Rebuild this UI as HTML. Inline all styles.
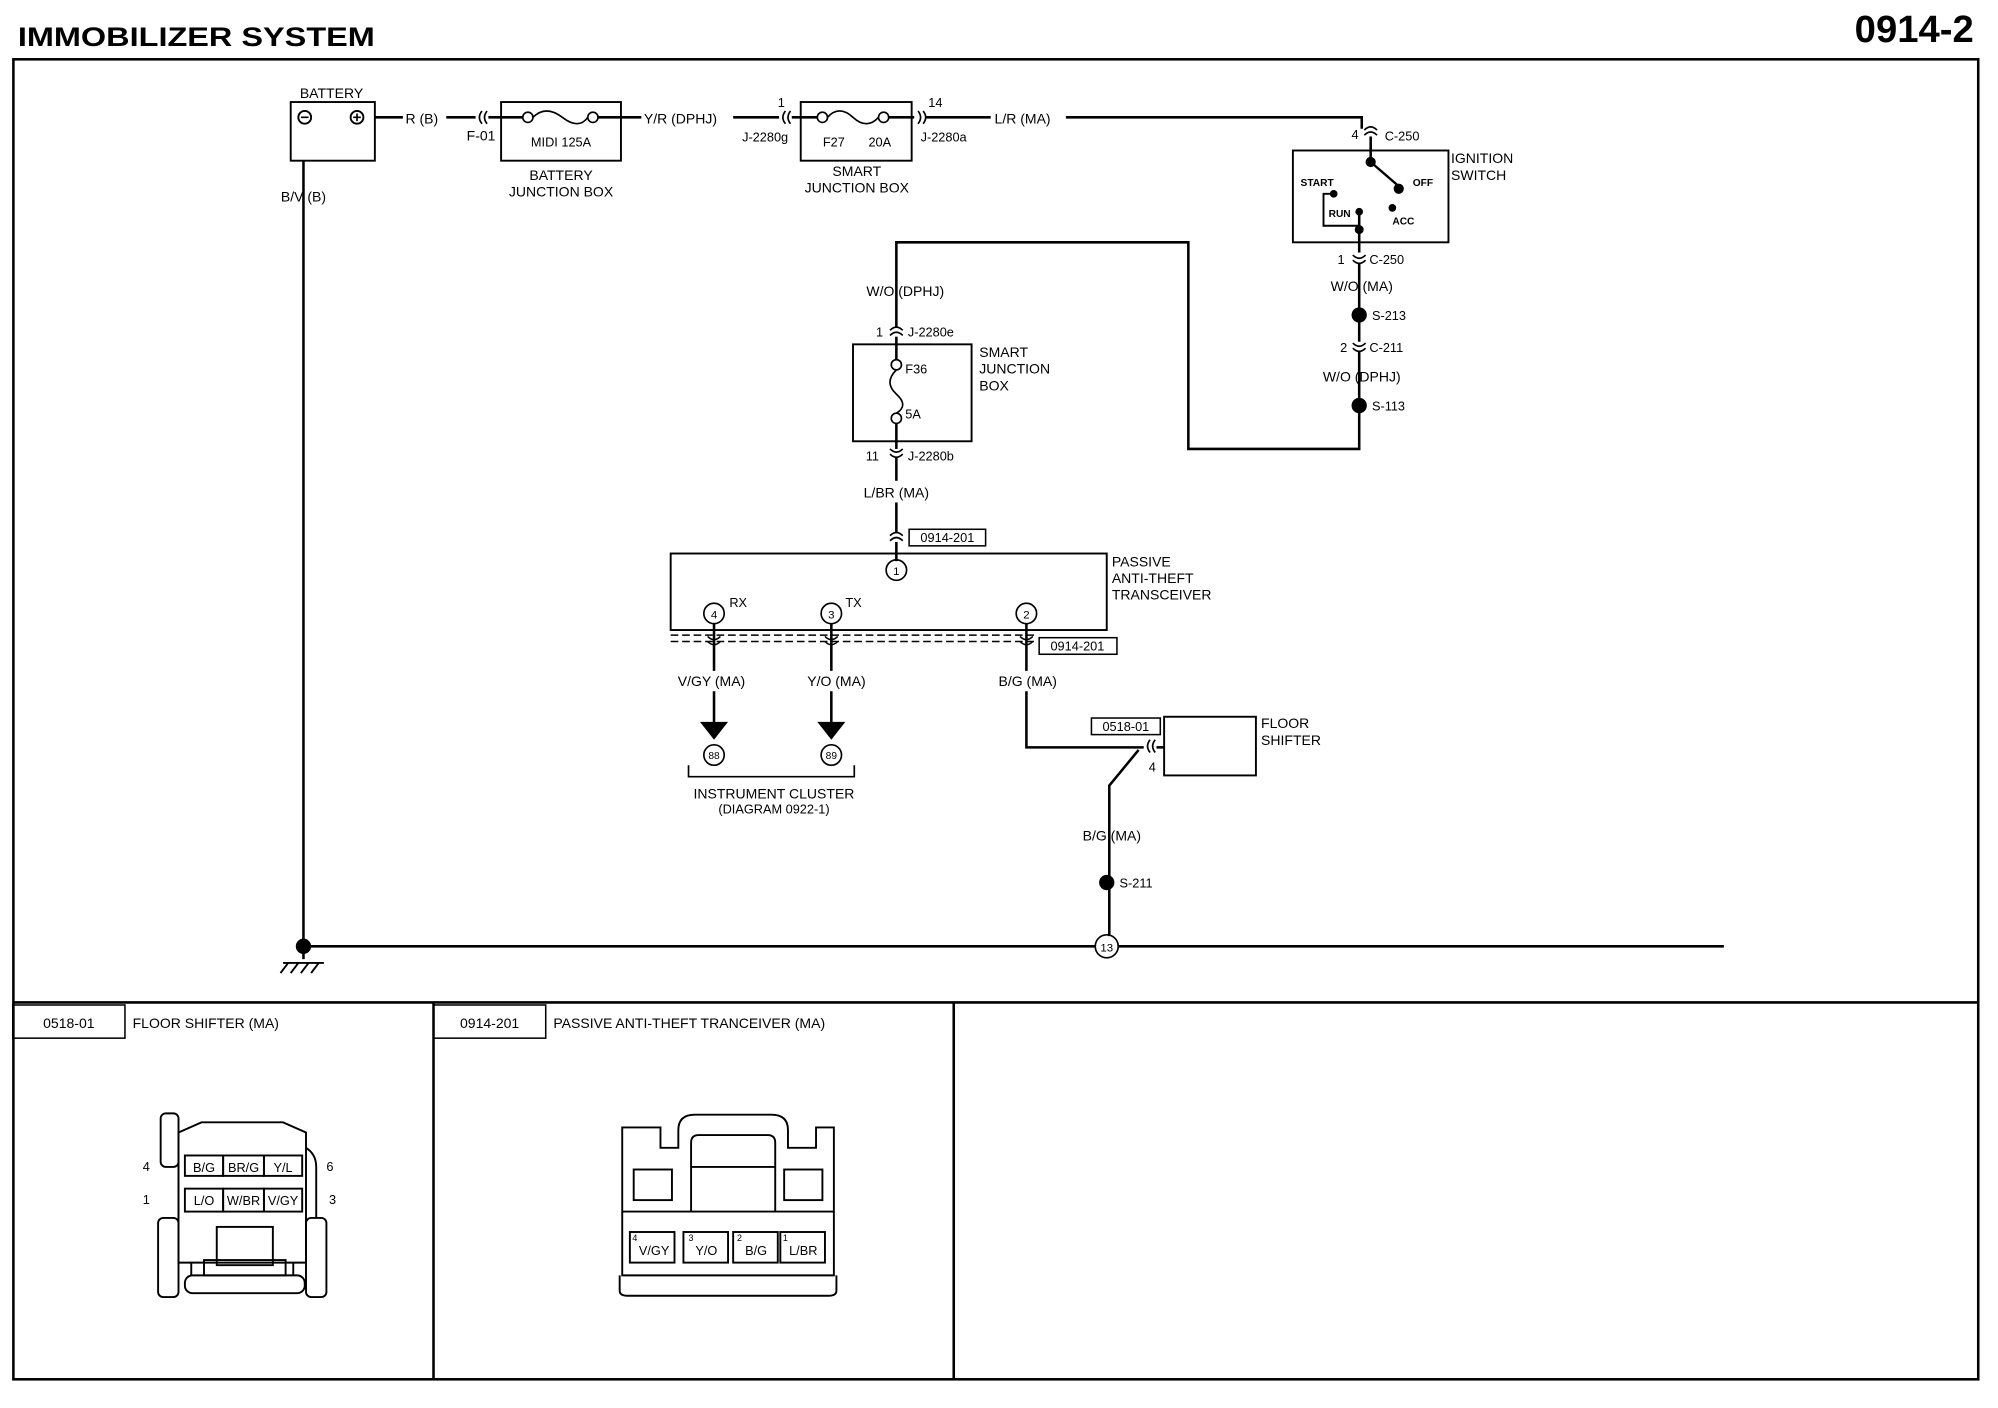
<!DOCTYPE html>
<html><head><meta charset="utf-8"><style>
html,body{margin:0;padding:0;background:#fff}
svg{display:block}
text{font-family:"Liberation Sans",Arial,sans-serif;font-size:11px;fill:#000}
.b{font-weight:bold}
</style></head><body>
<svg width="1998" height="1408" viewBox="0 0 1567 1104" preserveAspectRatio="none" xmlns="http://www.w3.org/2000/svg">
<rect width="1567" height="1104" fill="#fff"/>
<text x="14" y="36" class="b" style="font-size:21px" textLength="280" lengthAdjust="spacingAndGlyphs">IMMOBILIZER SYSTEM</text>
<text x="1548" y="33" class="b" text-anchor="end" style="font-size:30px">0914-2</text>
<g fill="none" stroke="#000">
<rect x="10.5" y="46.5" width="1541" height="1035" stroke-width="2"/>
<line x1="10" y1="786" x2="1552" y2="786" stroke-width="2"/>
<line x1="340" y1="786" x2="340" y2="1082" stroke-width="2"/>
<line x1="748" y1="786" x2="748" y2="1082" stroke-width="2"/>
<rect x="10" y="788" width="88" height="26" stroke-width="1.2"/>
<rect x="340" y="788" width="88" height="26" stroke-width="1.2"/>
</g>
<text x="54" y="806" text-anchor="middle">0518-01</text>
<text x="384" y="806" text-anchor="middle">0914-201</text>
<text x="104" y="806">FLOOR SHIFTER (MA)</text>
<text x="434" y="806">PASSIVE ANTI-THEFT TRANCEIVER (MA)</text>

<g fill="none" stroke="#000" stroke-width="2">
<rect x="228" y="80" width="66" height="46" stroke-width="1.5"/>
<circle cx="239" cy="92" r="5" stroke-width="1.5"/>
<circle cx="280" cy="92" r="5" stroke-width="1.5"/>
<line x1="294" y1="92" x2="316" y2="92"/>
<line x1="350" y1="92" x2="373" y2="92"/>
<path d="M378 87 q-4 5 0 10 M382 87 q-4 5 0 10" stroke-width="1.3"/>
<line x1="383" y1="92" x2="410" y2="92"/>
<rect x="393" y="80" width="94" height="46" stroke-width="1.5"/>
<circle cx="414" cy="92" r="4" stroke-width="1.3"/>
<circle cx="465" cy="92" r="4" stroke-width="1.3"/>
<path d="M418 92 q10 -10 23 0 q13 10 20 0" stroke-width="1.3"/>
<line x1="469" y1="92" x2="503" y2="92"/>
<line x1="575" y1="92" x2="611" y2="92"/>
<path d="M616 87 q-4 5 0 10 M620 87 q-4 5 0 10" stroke-width="1.3"/>
<line x1="621" y1="92" x2="641" y2="92"/>
<rect x="628" y="80" width="87" height="46" stroke-width="1.5"/>
<circle cx="645" cy="92" r="4" stroke-width="1.3"/>
<circle cx="693" cy="92" r="4" stroke-width="1.3"/>
<path d="M649 92 q9 -10 20 0 q11 10 20 0" stroke-width="1.3"/>
<line x1="697" y1="92" x2="717" y2="92"/>
<path d="M720 87 q4 5 0 10 M724 87 q4 5 0 10" stroke-width="1.3"/>
<line x1="726" y1="92" x2="777" y2="92"/>
<path d="M836 92 H1068 V101"/>
<path d="M1070 102 q5 -5 10 0 M1070 106 q5 -5 10 0" stroke-width="1.3"/>
<line x1="1075" y1="107" x2="1075" y2="127"/>
<rect x="1014" y="118" width="122" height="72" stroke-width="1.5"/>
<line x1="1075" y1="127" x2="1097" y2="146" stroke-width="1.8"/>
<path d="M1046 152 H1038 V177 H1066" stroke-width="1.5"/>
<line x1="1066" y1="166" x2="1066" y2="198"/>
<path d="M1061 200 q5 5 10 0 M1061 204 q5 5 10 0" stroke-width="1.3"/>
<line x1="1066" y1="206" x2="1066" y2="268"/>
<path d="M1061 269 q5 5 10 0 M1061 273 q5 5 10 0" stroke-width="1.3"/>
<path d="M1066 275 V352 H932 V190 H703 V256"/>
<path d="M698 259 q5 -5 10 0 M698 263 q5 -5 10 0" stroke-width="1.3"/>
<line x1="703" y1="264" x2="703" y2="282"/>
<rect x="669" y="270" width="93" height="76" stroke-width="1.5"/>
<circle cx="703" cy="286" r="4" stroke-width="1.3"/>
<circle cx="703" cy="328" r="4" stroke-width="1.3"/>
<path d="M703 290 q-10 10 0 19 q10 9 0 15" stroke-width="1.3"/>
<line x1="703" y1="332" x2="703" y2="352"/>
<path d="M698 352 q5 5 10 0 M698 356 q5 5 10 0" stroke-width="1.3"/>
<line x1="703" y1="358" x2="703" y2="377"/>
<line x1="703" y1="394" x2="703" y2="418"/>
<path d="M698 420 q5 -5 10 0 M698 424 q5 -5 10 0" stroke-width="1.3"/>
<line x1="703" y1="425" x2="703" y2="440"/>
<rect x="713" y="415" width="60" height="13" stroke-width="1.2"/>
<rect x="526" y="434" width="342" height="60" stroke-width="1.5"/>
<circle cx="703" cy="447" r="8" stroke-width="1.3"/>
<circle cx="560" cy="481" r="8" stroke-width="1.3"/>
<circle cx="652" cy="481" r="8" stroke-width="1.3"/>
<circle cx="805" cy="481" r="8" stroke-width="1.3"/>
<path d="M526 498 H812 M526 503 H812" stroke-width="1.2" stroke-dasharray="6 3"/>
<rect x="815" y="500" width="61" height="13" stroke-width="1.2"/>
<path d="M560 489 V526 M652 489 V526 M805 489 V526" />
<path d="M555 499 q5 5 10 0 M555 503 q5 5 10 0 M647 499 q5 5 10 0 M647 503 q5 5 10 0 M800 499 q5 5 10 0 M800 503 q5 5 10 0" stroke-width="1.2"/>
<path d="M560 542 V567 M652 542 V567 M805 542 V586 H897"/>
<circle cx="560" cy="592" r="8" stroke-width="1.3"/>
<circle cx="652" cy="592" r="8" stroke-width="1.3"/>
<path d="M540 600 V609 H670 V600" stroke-width="1.3"/>
<rect x="856" y="563" width="54" height="13" stroke-width="1.2"/>
<path d="M902 580 q-4 5 0 10 M906 580 q-4 5 0 10" stroke-width="1.3"/>
<line x1="907" y1="586" x2="913" y2="586"/>
<rect x="913" y="562" width="72" height="46" stroke-width="1.5"/>
<path d="M893 588 L870 616 V734"/>
<circle cx="868" cy="742" r="9" stroke-width="1.3"/>
<line x1="238" y1="742" x2="859" y2="742"/>
<line x1="877" y1="742" x2="1352" y2="742"/>
<path d="M238 126 V752"/>
<path d="M222 755 H254 M226 755 l-6 8 M234 755 l-6 8 M242 755 l-6 8 M250 755 l-6 8" stroke-width="1.5"/>
</g>
<g fill="#000">
<path d="M236 92 h6 M277 92 h6 M280 89 v6" stroke="#000" stroke-width="1.3"/>
<circle cx="1075" cy="127" r="4"/><circle cx="1097" cy="148" r="4"/>
<circle cx="1046" cy="152" r="3"/><circle cx="1066" cy="166" r="3"/><circle cx="1092" cy="163" r="3"/><circle cx="1066" cy="180" r="3.5"/>
<circle cx="1066" cy="247" r="6"/><circle cx="1066" cy="318" r="6"/>
<circle cx="868" cy="692" r="6"/><circle cx="238" cy="742" r="6"/>
<path d="M549 566 H571 L560 580 Z M641 566 H663 L652 580 Z"/>
</g>
<text x="260" y="77" text-anchor="middle">BATTERY</text>
<text x="318" y="97">R (B)</text>
<text x="366" y="110">F-01</text>
<text x="440" y="115" text-anchor="middle" style="font-size:10px">MIDI  125A</text>
<text x="440" y="141" text-anchor="middle">BATTERY</text>
<text x="440" y="154" text-anchor="middle">JUNCTION BOX</text>
<text x="505" y="97">Y/R (DPHJ)</text>
<text x="610" y="84" style="font-size:10px">1</text>
<text x="582" y="111" style="font-size:10px">J-2280g</text>
<text x="654" y="115" text-anchor="middle" style="font-size:10px">F27</text>
<text x="690" y="115" text-anchor="middle" style="font-size:10px">20A</text>
<text x="672" y="138" text-anchor="middle">SMART</text>
<text x="672" y="151" text-anchor="middle">JUNCTION BOX</text>
<text x="728" y="84" style="font-size:10px">14</text>
<text x="722" y="111" style="font-size:10px">J-2280a</text>
<text x="780" y="97">L/R (MA)</text>
<text x="1060" y="109" style="font-size:10px">4</text>
<text x="1086" y="110" style="font-size:10px">C-250</text>
<text x="1138" y="128">IGNITION</text>
<text x="1138" y="141">SWITCH</text>
<text x="1020" y="146" style="font-size:8px;font-weight:bold">START</text>
<text x="1108" y="146" style="font-size:8px;font-weight:bold">OFF</text>
<text x="1042" y="170" style="font-size:8px;font-weight:bold">RUN</text>
<text x="1092" y="176" style="font-size:8px;font-weight:bold">ACC</text>
<text x="1049" y="207" style="font-size:10px">1</text>
<text x="1074" y="207" style="font-size:10px">C-250</text>
<text x="1068" y="228" text-anchor="middle">W/O (MA)</text>
<text x="1076" y="251" style="font-size:10px">S-213</text>
<text x="1051" y="276" style="font-size:10px">2</text>
<text x="1074" y="276" style="font-size:10px">C-211</text>
<text x="1068" y="299" text-anchor="middle">W/O (DPHJ)</text>
<text x="1076" y="322" style="font-size:10px">S-113</text>
<text x="710" y="232" text-anchor="middle">W/O (DPHJ)</text>
<text x="687" y="264" style="font-size:10px">1</text>
<text x="712" y="264" style="font-size:10px">J-2280e</text>
<text x="768" y="280">SMART</text>
<text x="768" y="293">JUNCTION</text>
<text x="768" y="306">BOX</text>
<text x="710" y="293" style="font-size:10px">F36</text>
<text x="710" y="328" style="font-size:10px">5A</text>
<text x="679" y="361" style="font-size:10px">11</text>
<text x="712" y="361" style="font-size:10px">J-2280b</text>
<text x="703" y="390" text-anchor="middle">L/BR (MA)</text>
<text x="743" y="425" text-anchor="middle" style="font-size:10px">0914-201</text>
<text x="872" y="444">PASSIVE</text>
<text x="872" y="457">ANTI-THEFT</text>
<text x="872" y="470">TRANSCEIVER</text>
<text x="703" y="451" text-anchor="middle" style="font-size:9px">1</text>
<text x="560" y="485" text-anchor="middle" style="font-size:9px">4</text>
<text x="652" y="485" text-anchor="middle" style="font-size:9px">3</text>
<text x="805" y="485" text-anchor="middle" style="font-size:9px">2</text>
<text x="572" y="476" style="font-size:10px">RX</text>
<text x="663" y="476" style="font-size:10px">TX</text>
<text x="845" y="510" text-anchor="middle" style="font-size:10px">0914-201</text>
<text x="558" y="538" text-anchor="middle">V/GY (MA)</text>
<text x="656" y="538" text-anchor="middle">Y/O (MA)</text>
<text x="806" y="538" text-anchor="middle">B/G (MA)</text>
<text x="560" y="595" text-anchor="middle" style="font-size:8px">88</text>
<text x="652" y="595" text-anchor="middle" style="font-size:8px">89</text>
<text x="607" y="626" text-anchor="middle">INSTRUMENT CLUSTER</text>
<text x="607" y="638" text-anchor="middle" style="font-size:10px">(DIAGRAM  0922-1)</text>
<text x="883" y="573" text-anchor="middle" style="font-size:10px">0518-01</text>
<text x="901" y="605" style="font-size:10px">4</text>
<text x="989" y="571">FLOOR</text>
<text x="989" y="584">SHIFTER</text>
<text x="872" y="659" text-anchor="middle">B/G (MA)</text>
<text x="878" y="696" style="font-size:10px">S-211</text>
<text x="868" y="746" text-anchor="middle" style="font-size:9px">13</text>
<text x="238" y="158" text-anchor="middle">B/V (B)</text>

<g fill="none" stroke="#000" stroke-width="1.5">
<rect x="126" y="873" width="14" height="42" rx="4"/>
<path d="M140 888 L158 880 H222 L240 888 V990 H140 Z"/>
<rect x="124" y="955" width="16" height="62" rx="4"/>
<rect x="240" y="955" width="16" height="62" rx="4"/>
<path d="M240 900 Q248 905 248 915 V955"/>
<path d="M140 900 V955"/>
<rect x="145" y="906" width="30" height="16"/><rect x="175" y="906" width="32" height="16"/><rect x="207" y="906" width="30" height="16"/>
<rect x="145" y="932" width="30" height="18"/><rect x="175" y="932" width="32" height="18"/><rect x="207" y="932" width="30" height="18"/>
<path d="M150 990 V1000 M230 990 V1000"/>
<rect x="170" y="962" width="44" height="30"/>
<rect x="160" y="988" width="64" height="12"/>
<rect x="145" y="1000" width="94" height="14" rx="6"/>
</g>
<text x="160" y="919" text-anchor="middle" style="font-size:10px">B/G</text>
<text x="191" y="919" text-anchor="middle" style="font-size:10px">BR/G</text>
<text x="222" y="919" text-anchor="middle" style="font-size:10px">Y/L</text>
<text x="160" y="945" text-anchor="middle" style="font-size:10px">L/O</text>
<text x="191" y="945" text-anchor="middle" style="font-size:10px">W/BR</text>
<text x="222" y="945" text-anchor="middle" style="font-size:10px">V/GY</text>
<text x="112" y="918" style="font-size:10px">4</text>
<text x="112" y="944" style="font-size:10px">1</text>
<text x="256" y="918" style="font-size:10px">6</text>
<text x="258" y="944" style="font-size:10px">3</text>

<g fill="none" stroke="#000" stroke-width="1.5">
<path d="M488 884 H518 V900 H532 V886 Q532 874 545 874 H605 Q618 874 618 886 V900 H640 V884 H654 V1000 H488 Z"/>
<line x1="488" y1="950" x2="654" y2="950"/>
<rect x="497" y="917" width="30" height="24"/><rect x="615" y="917" width="30" height="24"/>
<path d="M542 950 V896 Q542 890 548 890 H602 Q608 890 608 896 V950 M542 915 H608"/>
<rect x="494" y="966" width="35" height="24"/><rect x="536" y="966" width="35" height="24"/>
<rect x="575" y="966" width="35" height="24"/><rect x="612" y="966" width="35" height="24"/>
<path d="M486 1000 V1012 Q486 1016 492 1016 H650 Q656 1016 656 1012 V1000"/>
</g>
<text x="513" y="984" text-anchor="middle" style="font-size:10px">V/GY</text>
<text x="554" y="984" text-anchor="middle" style="font-size:10px">Y/O</text>
<text x="593" y="984" text-anchor="middle" style="font-size:10px">B/G</text>
<text x="630" y="984" text-anchor="middle" style="font-size:10px">L/BR</text>
<text x="496" y="973" style="font-size:7px">4</text>
<text x="540" y="973" style="font-size:7px">3</text>
<text x="578" y="973" style="font-size:7px">2</text>
<text x="614" y="973" style="font-size:7px">1</text>
</svg>
</body></html>
